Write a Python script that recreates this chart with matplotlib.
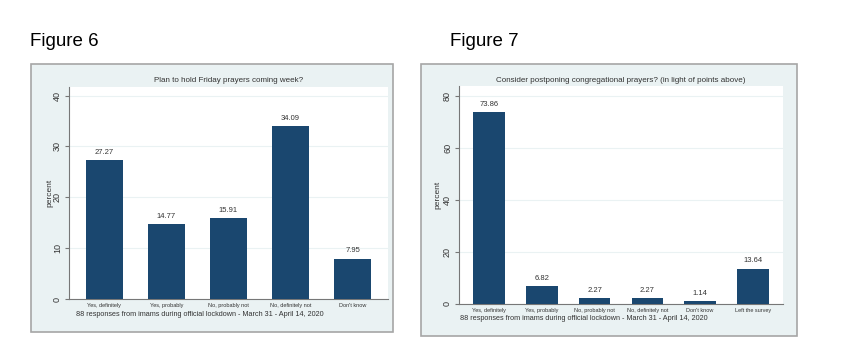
import matplotlib.pyplot as plt
from matplotlib.patches import Rectangle

plt.rcParams['font.family'] = ['Liberation Sans', 'DejaVu Sans']

# Figure 6 data
cats6 = ["Yes, definitely", "Yes, probably", "No, probably not", "No, definitely not", "Don't know"]
vals6 = [27.27, 14.77, 15.91, 34.09, 7.95]
ticks6 = [0, 10, 20, 30, 40]

# Figure 7 data
cats7 = ["Yes, definitely", "Yes, probably", "No, probably not", "No, definitely not",
         "Don't know", "Left the survey"]
vals7 = [73.86, 6.82, 2.27, 2.27, 1.14, 13.64]
ticks7 = [0, 20, 40, 60, 80]

note = "88 responses from imams during official lockdown - March 31 - April 14, 2020"

W, H = 866, 364
BAR = "#1a476f"
BG = "#eaf2f3"
TXT = "#333333"

fig = plt.figure(figsize=(W / 100, H / 100), dpi=100)
fig.patch.set_facecolor("white")


def fx(px):
    return px / W


def fy(py):
    return 1 - py / H


def panel(box, plot, cats, vals, ticks, ytop, title, label, fig_x, title_y, note_y, note_x, ylab_x):
    x0, y0, x1, y1 = box
    fig.patches.append(Rectangle((fx(x0), fy(y1)), fx(x1 - x0), (y1 - y0) / H,
                                 transform=fig.transFigure, facecolor=BG,
                                 edgecolor="#a6a6a6", linewidth=1.2, zorder=-5))
    fig.text(fx(fig_x), fy(42), label, fontsize=13.5, va="center", ha="left", color="black")
    px0, py0, px1, py1 = plot
    ax = fig.add_axes([fx(px0), fy(py1), fx(px1 - px0), (py1 - py0) / H], zorder=1)
    ax.set_facecolor("white")
    n = len(cats)
    xs = range(n)
    ax.bar(xs, vals, width=0.6, color=BAR, zorder=3)
    for x, v in zip(xs, vals):
        ax.annotate(f"{v:.2f}", (x, v), xytext=(0, 3), textcoords="offset points",
                    ha="center", va="bottom", fontsize=5.5, color=TXT)
    ax.set_xlim(-0.57, n - 1 + 0.57)
    ax.set_ylim(0, ytop)
    ax.set_yticks(ticks)
    ax.set_yticklabels([str(t) for t in ticks], rotation=90, va="center", fontsize=6.5, color=TXT)
    ax.set_xticks(list(xs))
    ax.set_xticklabels(cats, fontsize=4, color=TXT)
    ax.tick_params(axis="y", length=3, color="#777777", pad=2)
    ax.tick_params(axis="x", length=0, pad=3)
    ax.yaxis.grid(True, color=BG, linewidth=0.8, zorder=0)
    ax.set_axisbelow(True)
    for s in ["top", "right"]:
        ax.spines[s].set_visible(False)
    for s in ["left", "bottom"]:
        ax.spines[s].set_color("#777777")
        ax.spines[s].set_linewidth(0.8)
    fig.text(fx(ylab_x), fy((py0 + py1) / 2), "percent", rotation=90, fontsize=6,
             va="center", ha="center", color=TXT)
    fig.text(fx((px0 + px1) / 2), fy(title_y), title, fontsize=5.8, ha="center",
             va="center", color=TXT)
    fig.text(fx(note_x), fy(note_y), note, fontsize=5.2, ha="left", va="center", color=TXT)
    return ax


panel((31, 64, 393, 332), (69, 87, 388, 299), cats6, vals6, ticks6, 41.7,
      "Plan to hold Friday prayers coming week?", "Figure 6", 30, 81, 314, 76, 50)
panel((421, 64, 797, 336), (459, 86, 783, 304), cats7, vals7, ticks7, 83.85,
      "Consider postponing congregational prayers? (in light of points above)", "Figure 7",
      450, 81, 319, 460, 438)

fig.savefig("out.png", dpi=100)
